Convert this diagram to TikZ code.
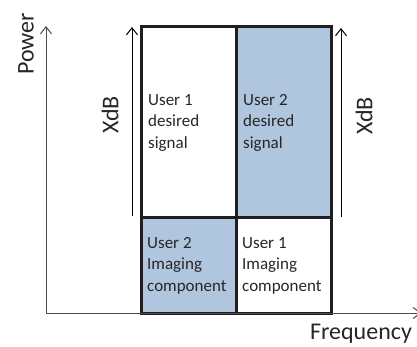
\documentclass[tikz,border=0pt]{standalone}
\usepackage{fontspec}
\setmainfont{Carlito}
\usepackage{xcolor}
\usetikzlibrary{positioning,arrows.meta}
\definecolor{cellblue}{RGB}{176,197,222}

\begin{document}
\begin{tikzpicture}[
    x=1pt, y=1pt,
    axis/.style={draw=black!70, line width=1pt, -{Straight Barb[length=7pt,width=11pt]}},
    cell/.style={draw=black!88, line width=3pt, minimum width=95pt, inner sep=0pt, outer sep=0pt},
    topcell/.style={cell, minimum height=191pt},
    lowcell/.style={cell, minimum height=95pt},
    celltext/.style={align=left, inner sep=0pt, font=\fontsize{17}{21.5}\selectfont, text=black!85},
    axislabel/.style={font=\fontsize{24}{28}\selectfont, text=black!85}
]
\useasboundingbox (0,0) rectangle (417,-347);

% Cells
\node[topcell, anchor=north west] (sigA) at (141,-27) {};
\node[topcell, fill=cellblue, right=0pt of sigA] (sigB) {};
\node[lowcell, fill=cellblue, below=0pt of sigA] (imgB) {};
\node[lowcell, below=0pt of sigB] (imgA) {};

% Cell texts
\node[celltext, right=7pt of sigA.west] (sigAtxt) {User 1\\desired\\signal};
\node[celltext, right=7pt of sigB.west] (sigBtxt) {User 2\\desired\\signal};
\node[celltext, right=6pt of imgB.west] (imgBtxt) {User 2\\Imaging\\component};
\node[celltext, right=6pt of imgA.west] (imgAtxt) {User 1\\Imaging\\component};

% Axes
\coordinate (origin) at (46,-313);
\coordinate (ptop) at (46,-26);
\coordinate (fend) at (421,-313);
\draw[axis] (origin) -- (ptop);
\draw[axis] (origin) -- (fend);
\node[axislabel, rotate=90] (power) at (26,-44) {Power};
\node[axislabel] (freq) at (361,-334) {Frequency};

% XdB arrows
\coordinate (xdbAlow) at (132,-216);
\coordinate (xdbAtop) at (132,-27);
\coordinate (xdbBlow) at (341,-217);
\coordinate (xdbBtop) at (341,-28);
\draw[axis, draw=black] (xdbAlow) -- (xdbAtop);
\draw[axis, draw=black] (xdbBlow) -- (xdbBtop);
\node[axislabel, rotate=90] (xdbA) at (110,-115) {XdB};
\node[axislabel, rotate=90] (xdbB) at (364,-116) {XdB};

\end{tikzpicture}
\end{document}
